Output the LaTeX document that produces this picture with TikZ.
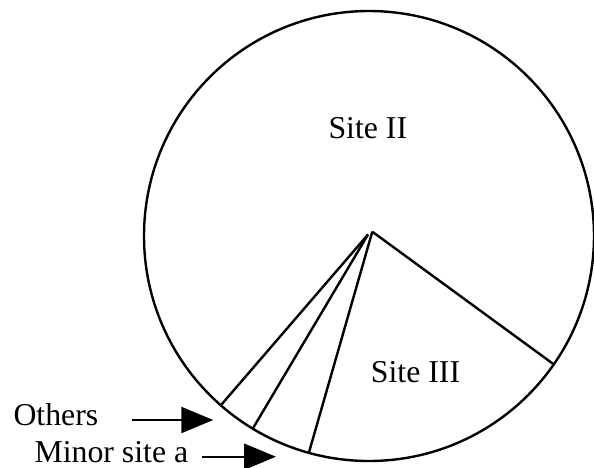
\documentclass[tikz,border=0pt]{standalone}
\usepackage{fontspec}
\setmainfont{Liberation Serif}
\usetikzlibrary{arrows.meta}
\begin{document}
\begin{tikzpicture}[x=1pt,y=-1pt,
  outline/.style={line width=2.4pt},
  spoke/.style={line width=2.4pt},
  pointer/.style={line width=2pt,-{Triangle[length=32pt,width=26pt]}},
  label/.style={inner sep=0pt,anchor=base west,font=\fontsize{31.8}{38}\selectfont}]
\useasboundingbox (0,0) rectangle (594,467);

% pie outline
\coordinate (centre) at (369,236);
\draw[outline] (centre) circle[radius=225];

% slice boundaries
\coordinate (apex) at (372.3,231.7);
\coordinate (apexL) at (368,234.5);
\coordinate (rimA) at (553.3,364);
\coordinate (rimB) at (309,452.3);
\coordinate (rimC) at (253.3,427.7);
\coordinate (rimD) at (221.7,404.3);
\draw[spoke] (apex) -- (rimA);
\draw[spoke] (apex) -- (rimB);
\draw[spoke] (apexL) -- (rimC);
\draw[spoke] (apexL) -- (rimD);

% slice labels
\node[label] (siteII) at (328.3,138) {Site II};
\node[label] (siteIII) at (370.7,382.7) {Site III};

% callouts for the thin slices
\node[label] (others) at (13.3,425) {Others};
\node[label] (minor) at (34.3,462.5) {Minor site a};
\coordinate (othersTail) at (132.3,420);
\coordinate (othersTip) at (213.3,420);
\coordinate (minorTail) at (201.7,456.7);
\coordinate (minorTip) at (276,456.7);
\draw[pointer] (othersTail) -- (othersTip);
\draw[pointer] (minorTail) -- (minorTip);
\end{tikzpicture}
\end{document}
